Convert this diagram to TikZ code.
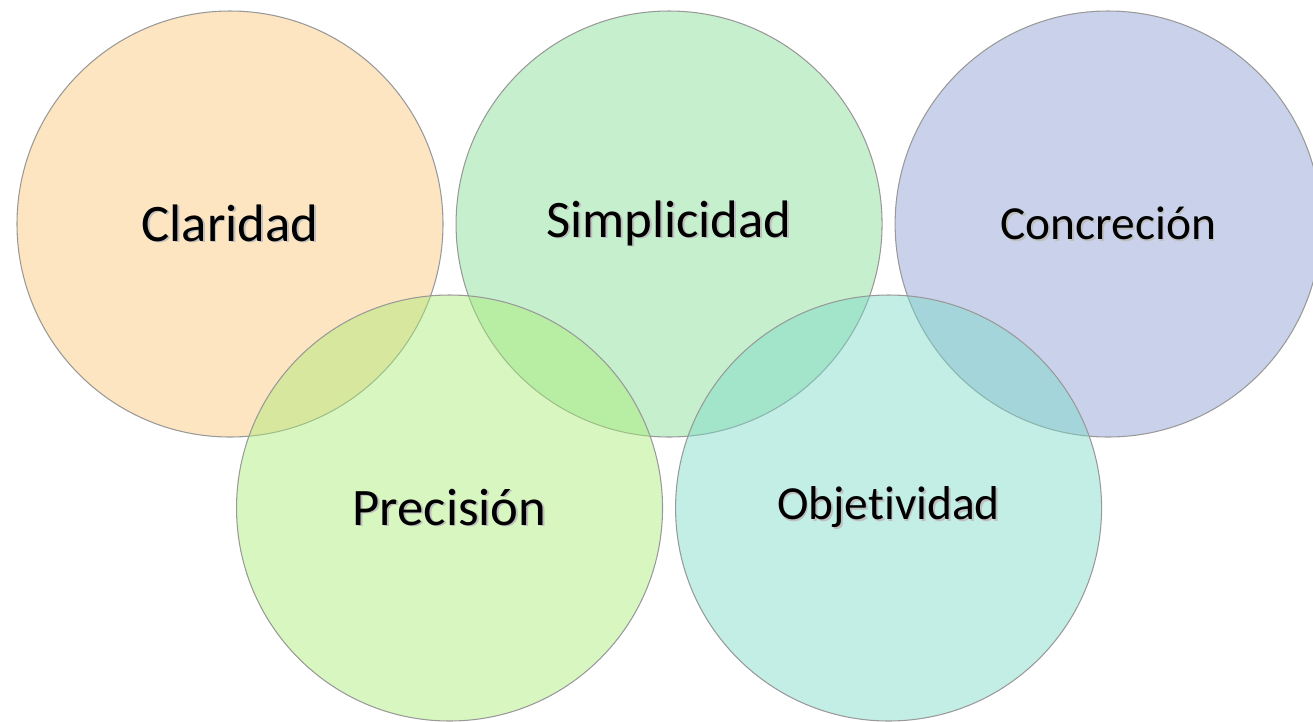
\documentclass[tikz,border=0pt]{standalone}
\usepackage{fontspec}
\setmainfont[Ligatures=NoCommon]{Carlito}
\usetikzlibrary{positioning,calc}

\definecolor{clarfill}{RGB}{250,197,119}
\definecolor{simpfill}{RGB}{128,222,144}
\definecolor{concfill}{RGB}{135,155,208}
\definecolor{precfill}{RGB}{168,237,115}
\definecolor{objefill}{RGB}{119,217,199}

% text with a soft shadow
\newcommand{\shtext}[1]{\rlap{\kern1pt\raisebox{-1pt}{\textcolor{black!25}{#1}}}#1}

\begin{document}
\begin{tikzpicture}[bubble/.style={circle,draw=black!40,line width=0.6pt,
    fill=#1,fill opacity=0.45,text opacity=1,
    minimum size=8.52cm,inner sep=0pt,align=center},
  big/.style={font=\fontsize{30}{36}\selectfont},
  small/.style={font=\fontsize{27}{32}\selectfont},
  node distance=0.24cm]
 \useasboundingbox (0,0) rectangle (26.26,-14.42);
 \node[bubble=clarfill,big] (clar) at (4.60,-4.48) {\shtext{Claridad}};
 \node[bubble=simpfill,big,right=of clar] (simp) {\shtext{Simplicidad}};
 \node[bubble=concfill,small,right=of simp] (conc) {\shtext{Concreción}};
 \node[bubble=precfill,big] (prec) at ($(clar)!.5!(simp)+(0,-5.68)$) {\shtext{Precisión}};
 \node[bubble=objefill,small] (obje) at ($(simp)!.5!(conc)+(0,-5.68)$) {\shtext{Objetividad}};
\end{tikzpicture}
\end{document}
